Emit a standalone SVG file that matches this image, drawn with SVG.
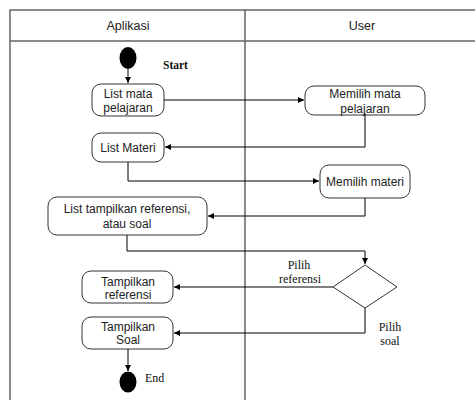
<svg xmlns="http://www.w3.org/2000/svg" width="475" height="400" viewBox="0 0 475 400">
<style>
.lane{fill:none;stroke:#666;stroke-width:1.5}
.box{fill:#fff;stroke:#333;stroke-width:1}
.t{font-family:"Liberation Sans",Arial,sans-serif;font-size:12px;fill:#222;text-anchor:middle}
.h{font-family:"Liberation Sans",Arial,sans-serif;font-size:12.5px;fill:#222;text-anchor:middle}
.s{font-family:"Liberation Serif","Times New Roman",serif;font-size:12px;fill:#111}
.b{font-weight:bold;font-size:11.5px}
.c{fill:none;stroke:#000;stroke-width:1}
</style>
<defs>
<marker id="ar" markerWidth="7" markerHeight="7" refX="6" refY="3.5" orient="auto" markerUnits="userSpaceOnUse">
<path d="M0,0.5 L6,3.5 L0,6.5 z" fill="#000"/>
</marker>
</defs>
<g id="swimlanes">
<path class="lane" d="M476,10 H10 V401 M10,41 H476 M245,10 V401"/>
<text class="h" x="128" y="30">Aplikasi</text>
<text class="h" x="362" y="30">User</text>
</g>
<g id="start">
<ellipse cx="128" cy="58" rx="8.5" ry="11" fill="#000"/>
<text class="s b" x="163" y="69">Start</text>
</g>
<g id="listMata">
<rect class="box" x="92" y="84" width="72" height="32" rx="9"/>
<text class="t" x="128" y="98">List mata</text>
<text class="t" x="128" y="112">pelajaran</text>
</g>
<g id="memilihMata">
<rect class="box" x="305" y="86" width="120" height="29" rx="9"/>
<text class="t" x="365" y="98">Memilih mata</text>
<text class="t" x="365" y="113">pelajaran</text>
</g>
<g id="listMateri">
<rect class="box" x="92" y="133" width="72" height="29" rx="9"/>
<text class="t" x="128" y="152">List Materi</text>
</g>
<g id="memilihMateri">
<rect class="box" x="320" y="165" width="90" height="33" rx="9"/>
<text class="t" x="365" y="186">Memilih materi</text>
</g>
<g id="listTampilkan">
<rect class="box" x="48" y="197" width="159" height="38" rx="9"/>
<text class="t" x="127" y="213">List tampilkan referensi,</text>
<text class="t" x="127" y="228">atau soal</text>
</g>
<g id="decision">
<path d="M365,265 L397,287 L365,308 L333,287 z" fill="#fff" stroke="#333" stroke-width="1"/>
</g>
<g id="tampilkanReferensi">
<rect class="box" x="82" y="271" width="91" height="32" rx="9"/>
<text class="t" x="128" y="286">Tampilkan</text>
<text class="t" x="128" y="299">referensi</text>
</g>
<g id="tampilkanSoal">
<rect class="box" x="82" y="317" width="91" height="32" rx="9"/>
<text class="t" x="128" y="331">Tampilkan</text>
<text class="t" x="128" y="344">Soal</text>
</g>
<g id="end">
<ellipse cx="128" cy="382" rx="8.5" ry="10.5" fill="#000"/>
<text class="s" x="145" y="382">End</text>
</g>
<g id="connectors">
<path class="c" d="M128,69 V83" marker-end="url(#ar)"/>
<path class="c" d="M164,100 H304" marker-end="url(#ar)"/>
<path class="c" d="M365,113 V147 H165" marker-end="url(#ar)"/>
<path class="c" d="M128,162 V181 H319" marker-end="url(#ar)"/>
<path class="c" d="M365,198 V216 H208" marker-end="url(#ar)"/>
<path class="c" d="M127,235 V251 H365 V264" marker-end="url(#ar)"/>
<path class="c" d="M333,287 H174" marker-end="url(#ar)"/>
<path class="c" d="M365,308 V333 H174" marker-end="url(#ar)"/>
<path class="c" d="M128,349 V371" marker-end="url(#ar)"/>
<text class="s" x="299" y="269" text-anchor="middle">Pilih</text>
<text class="s" x="300" y="283" text-anchor="middle">referensi</text>
<text class="s" x="390" y="331" text-anchor="middle">Pilih</text>
<text class="s" x="390" y="345" text-anchor="middle">soal</text>
</g>
</svg>
